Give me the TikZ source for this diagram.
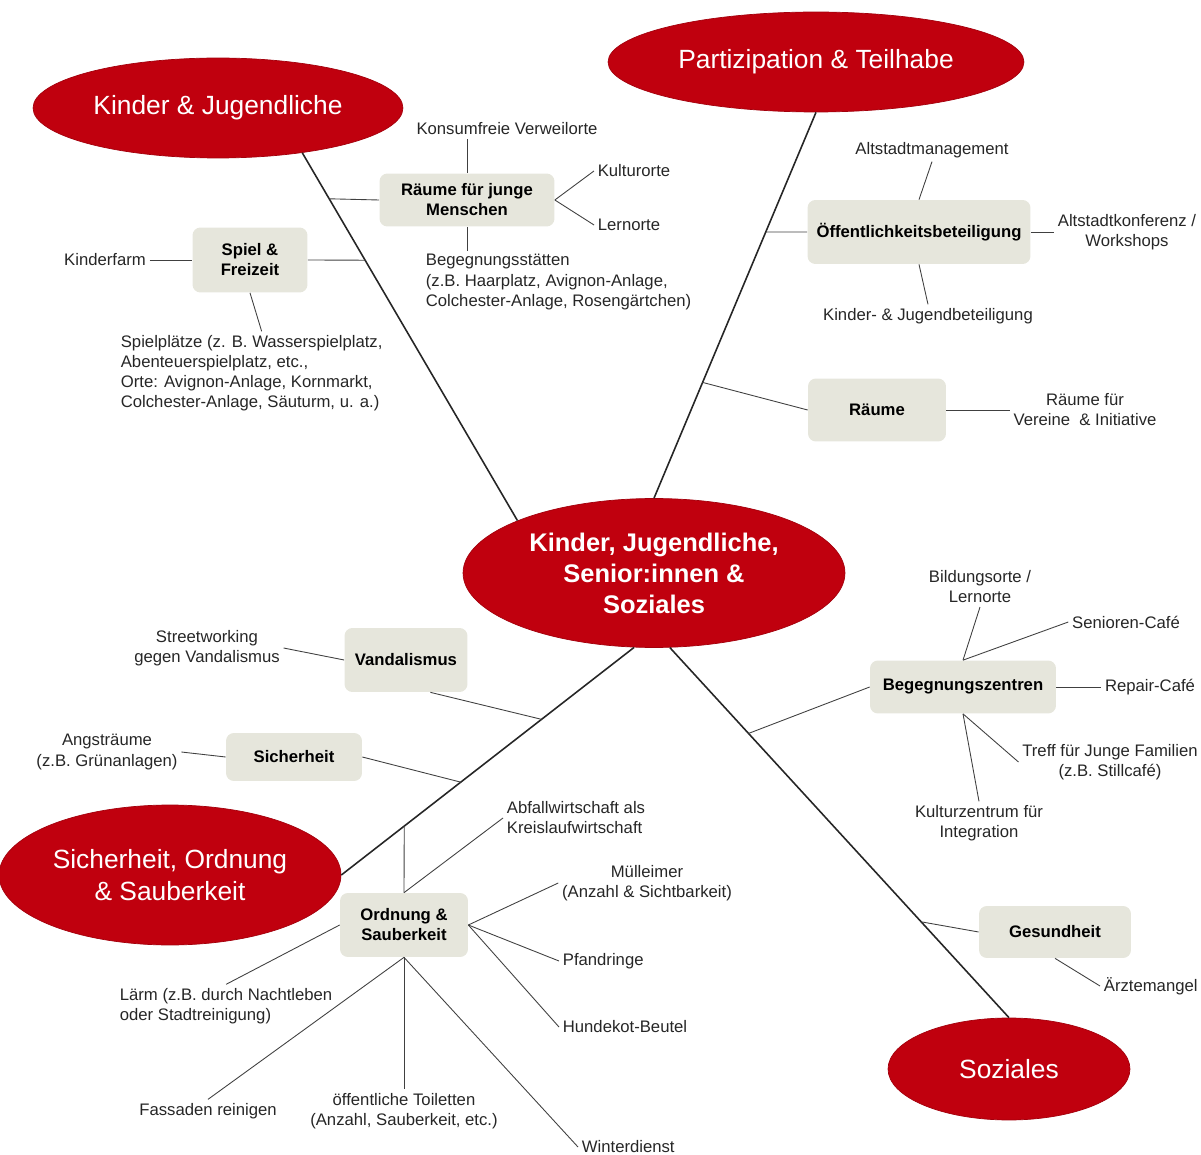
\documentclass[tikz,border=0pt]{standalone}
\usepackage{fontspec}
\setmainfont{Liberation Sans}
\usetikzlibrary{shapes.geometric,calc}
\definecolor{mapred}{RGB}{192,0,14}
\definecolor{boxgray}{RGB}{230,230,220}
\begin{document}
\begin{tikzpicture}
        [x=0.02cm, y=-0.02cm,
        topic/.style={ellipse, fill=mapred, draw=mapred!85!black, inner sep=0pt, text=white, align=center, font=\fontsize{15}{18}\selectfont},
        hub/.style={topic, font=\fontsize{14.5}{17.6}\selectfont\bfseries},
        catbox/.style={rectangle, rounded corners=4.5pt, fill=boxgray, inner sep=2pt, align=center, font=\fontsize{9.5}{11.4}\selectfont\bfseries},
        leaf/.style={inner sep=2pt, align=center, text=black!85, font=\fontsize{9.5}{11.4}\selectfont},
        mainline/.style={draw=black!85, line width=0.9pt},
        subline/.style={draw=black!75, line width=0.5pt}]
        \useasboundingbox (0,0) rectangle (1201,1155);

        % main topics
        \node[hub, minimum width=7.64cm, minimum height=2.98cm] (ctr) at (654,573) {Kinder, Jugendliche,\\Senior:innen \&\\Soziales};
        \node[topic, minimum width=7.4cm, minimum height=2cm] (kj) at (218,108) {Kinder \& Jugendliche};
        \node[topic, minimum width=8.32cm, minimum height=2cm] (pt) at (816,62) {Partizipation \& Teilhabe};
        \node[topic, minimum width=6.84cm, minimum height=2.8cm] (sos) at (170,875) {Sicherheit, Ordnung\\\& Sauberkeit};
        \node[topic, minimum width=4.84cm, minimum height=2.04cm] (soz) at (1009,1069) {Soziales};

        % sub topics
        \node[catbox, minimum width=3.5cm, minimum height=1.06cm] (rj) at (467,200) {Räume für junge\\Menschen};
        \node[catbox, minimum width=2.3cm, minimum height=1.3cm] (spiel) at (250,260) {Spiel \&\\Freizeit};
        \node[catbox, minimum width=4.46cm, minimum height=1.28cm] (oeff) at (919,232) {Öffentlichkeitsbeteiligung};
        \node[catbox, minimum width=2.76cm, minimum height=1.26cm] (raeume) at (877,410) {Räume};
        \node[catbox, minimum width=3.72cm, minimum height=1.06cm] (beg) at (963,687) {Begegnungszentren};
        \node[catbox, minimum width=2.46cm, minimum height=1.28cm] (vand) at (406,660) {Vandalismus};
        \node[catbox, minimum width=2.72cm, minimum height=0.96cm] (sich) at (294,757) {Sicherheit};
        \node[catbox, minimum width=2.56cm, minimum height=1.28cm] (ord) at (404,925) {Ordnung \&\\Sauberkeit};
        \node[catbox, minimum width=3.04cm, minimum height=1.04cm] (gesund) at (1055,932) {Gesundheit};

        % leaves
        \node[leaf] (konsum) at (507,129) {Konsumfreie Verweilorte};
        \node[leaf] (kultur) at (634,171) {Kulturorte};
        \node[leaf] (lern) at (629,225) {Lernorte};
        \node[leaf, align=left, anchor=west] (begst) at (422,282) {Begegnungsstätten\\(z.B. Haarplatz, Avignon-Anlage,\\Colchester-Anlage, Rosengärtchen)};
        \node[leaf] (farm) at (105,260) {Kinderfarm};
        \node[leaf, align=left, anchor=west] (spielpl) at (117,373) {Spielplätze (z. B. Wasserspielplatz,\\Abenteuerspielplatz, etc.,\\Orte: Avignon-Anlage, Kornmarkt,\\Colchester-Anlage, Säuturm, u. a.)};
        \node[leaf] (altmgmt) at (932,150) {Altstadtmanagement};
        \node[leaf] (altkonf) at (1127,232) {Altstadtkonferenz /\\Workshops};
        \node[leaf] (kjbet) at (928,316) {Kinder- \& Jugendbeteiligung};
        \node[leaf] (vereine) at (1085,410) {Räume für\\Vereine \ \& Initiative};
        \node[leaf] (bildung) at (980,587) {Bildungsorte /\\Lernorte};
        \node[leaf] (senioren) at (1126,622) {Senioren-Café};
        \node[leaf] (repair) at (1150,687) {Repair-Café};
        \node[leaf] (treff) at (1110,762) {Treff für Junge Familien\\(z.B. Stillcafé)};
        \node[leaf] (kultz) at (979,823) {Kulturzentrum für\\Integration};
        \node[leaf] (street) at (207,648) {Streetworking\\gegen Vandalismus};
        \node[leaf] (angst) at (107,752) {Angsträume\\(z.B. Grünanlagen)};
        \node[leaf, align=left, anchor=west] (abfall) at (503,818) {Abfallwirtschaft als\\Kreislaufwirtschaft};
        \node[leaf] (muell) at (647,883) {Mülleimer\\(Anzahl \& Sichtbarkeit)};
        \node[leaf, anchor=west] (pfand) at (559,961) {Pfandringe};
        \node[leaf, anchor=west] (hundekot) at (559,1027) {Hundekot-Beutel};
        \node[leaf, anchor=west] (winter) at (578,1147) {Winterdienst};
        \node[leaf] (toil) at (404,1111) {öffentliche Toiletten\\(Anzahl, Sauberkeit, etc.)};
        \node[leaf] (fassaden) at (208,1111) {Fassaden reinigen};
        \node[leaf, align=left, anchor=west] (laerm) at (116,1006) {Lärm (z.B. durch Nachtleben\\oder Stadtreinigung)};
        \node[leaf, anchor=west] (aerzte) at (1100,986) {Ärztemangel};

        % main lines
        \draw[mainline] (kj.-28) -- (ctr.159) coordinate[pos=0.125] (kjA) coordinate[pos=0.292] (kjB);
        \draw[mainline] (pt.south) -- (ctr.north) coordinate[pos=0.31] (ptA) coordinate[pos=0.70] (ptB);
        \draw[mainline] (ctr.-105) -- (sos.east) coordinate[pos=0.316] (sosA) coordinate[pos=0.592] (sosB) coordinate[pos=0.785] (sosC);
        \draw[mainline] (ctr.-78) -- (soz.north) coordinate[pos=0.232] (sozA) coordinate[pos=0.741] (sozB);

        % Kinder & Jugendliche
        \draw[subline] (kjA) -- (rj.west);
        \draw[subline] (kjB) -- (spiel.east);
        \draw[subline] (rj.north) -- (rj.north |- konsum.south);
        \draw[subline] (rj.east) -- (kultur.west);
        \draw[subline] (rj.east) -- (lern.west);
        \draw[subline] (rj.south) -- (rj.south |- begst.north);
        \draw[subline] (farm.east) -- (spiel.west);
        \draw[subline] (spiel.south) -- ($(spielpl.north)+(10,0)$);

        % Partizipation & Teilhabe
        \draw[subline] (ptA) -- (oeff.west);
        \draw[subline] (ptB) -- (raeume.west);
        \draw[subline] (oeff.north) -- (altmgmt.south);
        \draw[subline] (oeff.east) -- (altkonf.west);
        \draw[subline] (oeff.south) -- (kjbet.north);
        \draw[subline] (raeume.east) -- (vereine.west);

        % Soziales
        \draw[subline] (sozA) -- (beg.west);
        \draw[subline] (sozB) -- (gesund.west);
        \draw[subline] (beg.north) -- (bildung.south);
        \draw[subline] (beg.north) -- (senioren.west);
        \draw[subline] (beg.east) -- (repair.west);
        \draw[subline] (beg.south) -- (treff.west);
        \draw[subline] (beg.south) -- (kultz.north);
        \draw[subline] (gesund.south) -- (aerzte.west);

        % Sicherheit, Ordnung & Sauberkeit
        \draw[subline] (sosA) -- (vand.-53);
        \draw[subline] (sosB) -- (sich.east);
        \draw[subline] (sosC) -- (ord.north);
        \draw[subline] (street.east) -- (vand.west);
        \draw[subline] (angst.east) -- (sich.west);
        \draw[subline] (ord.north) -- (abfall.west);
        \draw[subline] (ord.east) -- (muell.west);
        \draw[subline] (ord.east) -- (pfand.west);
        \draw[subline] (ord.east) -- (hundekot.west);
        \draw[subline] (ord.south) -- (winter.west);
        \draw[subline] (ord.south) -- (toil.north);
        \draw[subline] (ord.south) -- (fassaden.north);
        \draw[subline] (ord.west) -- (laerm.north);
    \end{tikzpicture}
\end{document}
